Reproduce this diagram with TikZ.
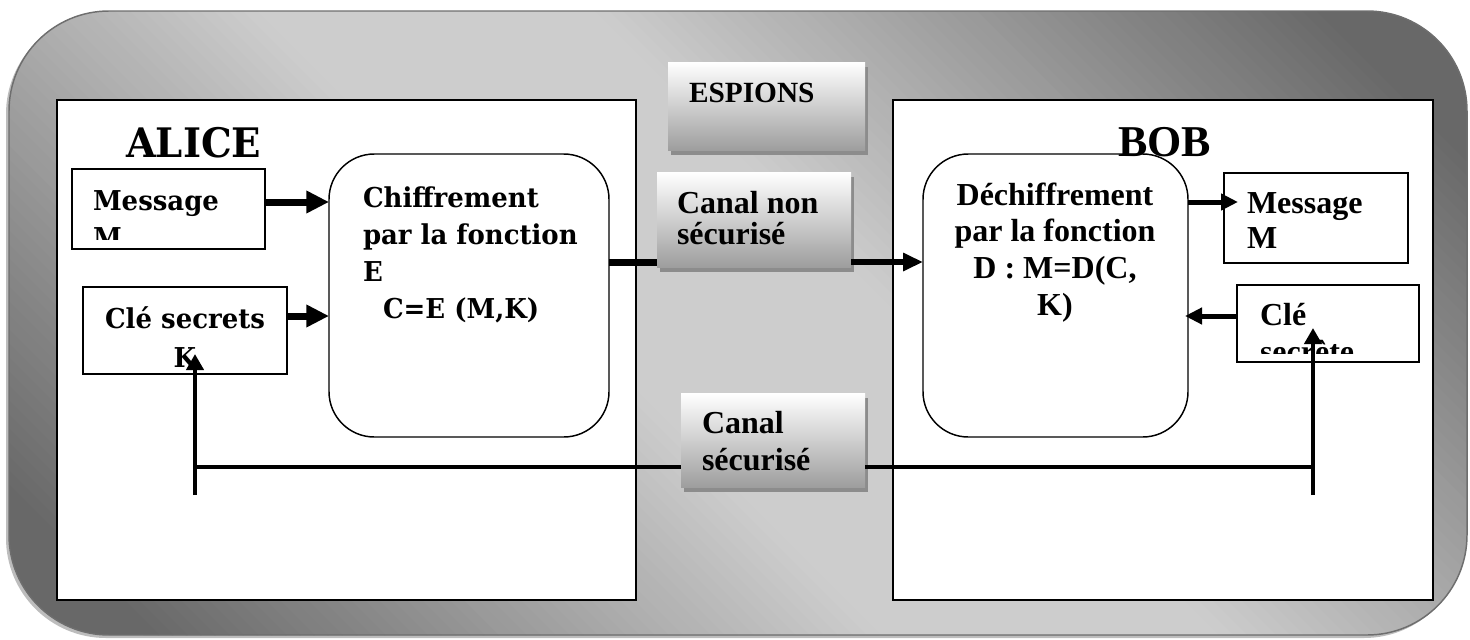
\documentclass[tikz,border=0pt]{standalone}
\usepackage{fontspec}
\setmainfont{Liberation Serif}
\newfontfamily\camfont{DejaVu Serif}[FakeStretch=0.95]
\usetikzlibrary{arrows.meta,shadows,calc}

\definecolor{bgdark}{HTML}{686868}
\definecolor{bglight}{HTML}{CDCDCD}
\definecolor{bgedge}{HTML}{6E6E6E}
\definecolor{bgshade}{HTML}{BDBDBD}
\definecolor{boxmid}{HTML}{F2F2F2}
\definecolor{boxbot}{HTML}{9E9E9E}
\definecolor{shadowgray}{HTML}{8C8C8C}

% stacked lines with a fixed baseline distance (left / centred)
\newcommand\stackl[2]{\vtop{\baselineskip=#1\lineskiplimit=-100pt\lineskip=0pt\halign{##\hfil\cr#2\crcr}}}
\newcommand\stackc[2]{\vtop{\baselineskip=#1\lineskiplimit=-100pt\lineskip=0pt\halign{\hfil##\hfil\cr#2\crcr}}}

\tikzset{
  every node/.style={inner sep=0pt, outer sep=0pt},
  framebox/.style={draw=black, line width=1.1pt, fill=white},
  roundbox/.style={draw=black, line width=1.1pt, fill=white, rounded corners=34pt},
  chanbox/.style={top color=white, middle color=boxmid, bottom color=boxbot,
    drop shadow={shadow xshift=2.25pt, shadow yshift=-3.75pt, opacity=1, fill=shadowgray}},
  tnr/.style={font=\fontsize{24}{27.75}\selectfont\bfseries},
  cam/.style={font=\camfont\fontsize{20.5}{27.75}\selectfont\bfseries},
  bigarrow/.style={line width=5.25pt, -{Triangle[length=17pt,width=16pt]}},
  midarrow/.style={line width=4.5pt, -{Triangle[length=15pt,width=13pt]}},
  smallarrow/.style={line width=3.75pt, -{Triangle[length=12.75pt,width=12pt]}},
  keyarrow/.style={line width=3pt, -{Triangle[length=12pt,width=12.75pt]}},
  chanline/.style={line width=3pt},
  thickline/.style={line width=5.25pt},
}

\begin{document}
\begin{tikzpicture}[x=0.75pt, y=-0.75pt]
\useasboundingbox (0,0) rectangle (1470,639);

% background panel: light diagonal band, darkening towards the
% top-right and bottom-left corners
\fill[bgshade, rounded corners=75pt] (6,14) rectangle (1464,638);
\begin{scope}
  \clip[rounded corners=75pt] (9,11) rectangle (1467,635);
  \fill[bgdark] (0,0) rectangle (1470,639);
  \fill[bglight] ({738+0.7071*121-707},{323-0.7071*121-707}) -- ({738+0.7071*121+707},{323-0.7071*121+707})
     -- ({738-0.7071*121+707},{323+0.7071*121+707}) -- ({738-0.7071*121-707},{323+0.7071*121-707}) -- cycle;
  \foreach \k in {0,...,51}{
    \pgfmathsetmacro\da{120+10*\k}
    \pgfmathsetmacro\db{\da+11}
    \pgfmathtruncatemacro\mix{100-100*(\k+0.5)/52}
    \fill[bglight!\mix!bgdark]
      ({738+0.7071*\da-707},{323-0.7071*\da-707}) -- ({738+0.7071*\da+707},{323-0.7071*\da+707})
      -- ({738+0.7071*\db+707},{323-0.7071*\db+707}) -- ({738+0.7071*\db-707},{323-0.7071*\db-707}) -- cycle;
    \fill[bglight!\mix!bgdark]
      ({738-0.7071*\da-707},{323+0.7071*\da-707}) -- ({738-0.7071*\da+707},{323+0.7071*\da+707})
      -- ({738-0.7071*\db+707},{323+0.7071*\db+707}) -- ({738-0.7071*\db-707},{323+0.7071*\db-707}) -- cycle;
  }
\end{scope}
\draw[bgedge, line width=1.1pt, rounded corners=75pt] (9,11) rectangle (1467,635);

% the two parties
\node[framebox, minimum width=434.25pt, minimum height=375pt] (alice) at (346.5,350) {};
\node[framebox, minimum width=405pt, minimum height=375pt] (bob) at (1163,350) {};

\node[anchor=base west, font=\camfont\fontsize{30.5}{36}\selectfont\bfseries] (alicet) at (126,157) {ALICE};

% Alice side
\node[framebox, minimum width=144.75pt, minimum height=60pt] (msgA) at (168.5,209) {};
\node[framebox, minimum width=153pt, minimum height=65.25pt] (keyA) at (185,330.5) {};
\node[roundbox, minimum width=210pt, minimum height=212.25pt] (chif) at (469,295.5) {};

\begin{scope}
  \clip ([xshift=1pt,yshift=-1pt]msgA.north west) rectangle ([xshift=-1pt,yshift=7.5pt]msgA.south east);
  \node[cam, anchor=base west] (msgAt) at (93,210) {\stackl{27.75pt}{Message\cr M}};
\end{scope}
\begin{scope}
  \clip ([xshift=1pt,yshift=-1pt]keyA.north west) rectangle ([xshift=-1pt,yshift=5.25pt]keyA.south east);
  \node[cam, anchor=base] (keyAt) at (185,328) {\stackc{29.25pt}{Clé secrets\cr K}};
\end{scope}
\node[cam, anchor=base west] (chift) at (363,207)
  {\stackl{27.75pt}{Chiffrement\cr par la fonction\cr E\cr \hspace*{15pt}C=E (M,K)}};

% channel boxes
\node[chanbox, minimum width=147.75pt, minimum height=66pt] (esp) at (766.5,106) {};
\node[anchor=base west, font=\fontsize{22}{26}\selectfont\bfseries] (espt) at (689,102) {ESPIONS};

\node[chanbox, minimum width=145.5pt, minimum height=71.25pt] (canal1) at (754,219.5) {};
\node[tnr, anchor=base west] (canal1t) at (677,213) {\stackl{23.25pt}{Canal non\cr sécurisé}};

\node[chanbox, minimum width=138pt, minimum height=70.5pt] (canal2) at (773,440) {};
\node[tnr, anchor=base west] (canal2t) at (702,433) {\stackl{27.75pt}{Canal\cr sécurisé}};

% Bob side
\node[roundbox, minimum width=198.75pt, minimum height=212.25pt] (dechif) at (1055.5,295.5) {};
\node[anchor=base west, font=\fontsize{33}{36}\selectfont\bfseries] (bobt) at (1118,156) {BOB};
\node[tnr, anchor=base] (dechift) at (1055,205)
  {\stackc{27.5pt}{Déchiffrement\cr par la fonction\cr D : M=D(C,\cr K)}};

\node[framebox, minimum width=138pt, minimum height=67.5pt] (msgB) at (1316,218) {};
\node[tnr, anchor=base west] (msgBt) at (1247,213) {\stackl{26.25pt}{Message\cr M}};

\node[framebox, minimum width=136.5pt, minimum height=57.75pt] (keyB) at (1328,323.5) {};
\begin{scope}
  \clip ([xshift=1pt,yshift=-1pt]keyB.north west) rectangle ([xshift=-1pt,yshift=6.75pt]keyB.south east);
  \node[tnr, anchor=base west] (keyBt) at (1260,325) {\stackl{27.75pt}{Clé\cr secrète}};
\end{scope}

% connectors
\draw[bigarrow] ([yshift=5.25pt]msgA.east) coordinate (a1) -- (a1 -| chif.west);
\draw[bigarrow] ([yshift=10.875pt]keyA.east) coordinate (a2) -- (a2 -| chif.west);
\draw[thickline] ([yshift=25.125pt]chif.east) coordinate (a3) -- (a3 -| canal1.west);
\draw[midarrow] (a3 -| canal1.east) -- (a3 -| dechif.west);
\draw[smallarrow] ([yshift=70.125pt]dechif.east) coordinate (b1) -- ($(b1 -| msgB.west)+(14,0)$);
\draw[smallarrow] ([yshift=5.625pt]keyB.west) coordinate (b2) -- ($(b2 -| dechif.east)+(-3,0)$);

% secure key channel
\coordinate (aBot) at (195,495);
\coordinate (aJoin) at (195,467);
\coordinate (aTip) at (195,354);
\coordinate (bBot) at (1313,495);
\coordinate (bJoin) at (1313,467);
\coordinate (bTip) at (1313,328);
\draw[keyarrow] (aBot) -- (aTip);
\draw[keyarrow] (bBot) -- (bTip);
\draw[chanline] (aJoin) -- (aJoin -| canal2.west);
\draw[chanline] (canal2.east |- bJoin) -- (bJoin);
\end{tikzpicture}
\end{document}
